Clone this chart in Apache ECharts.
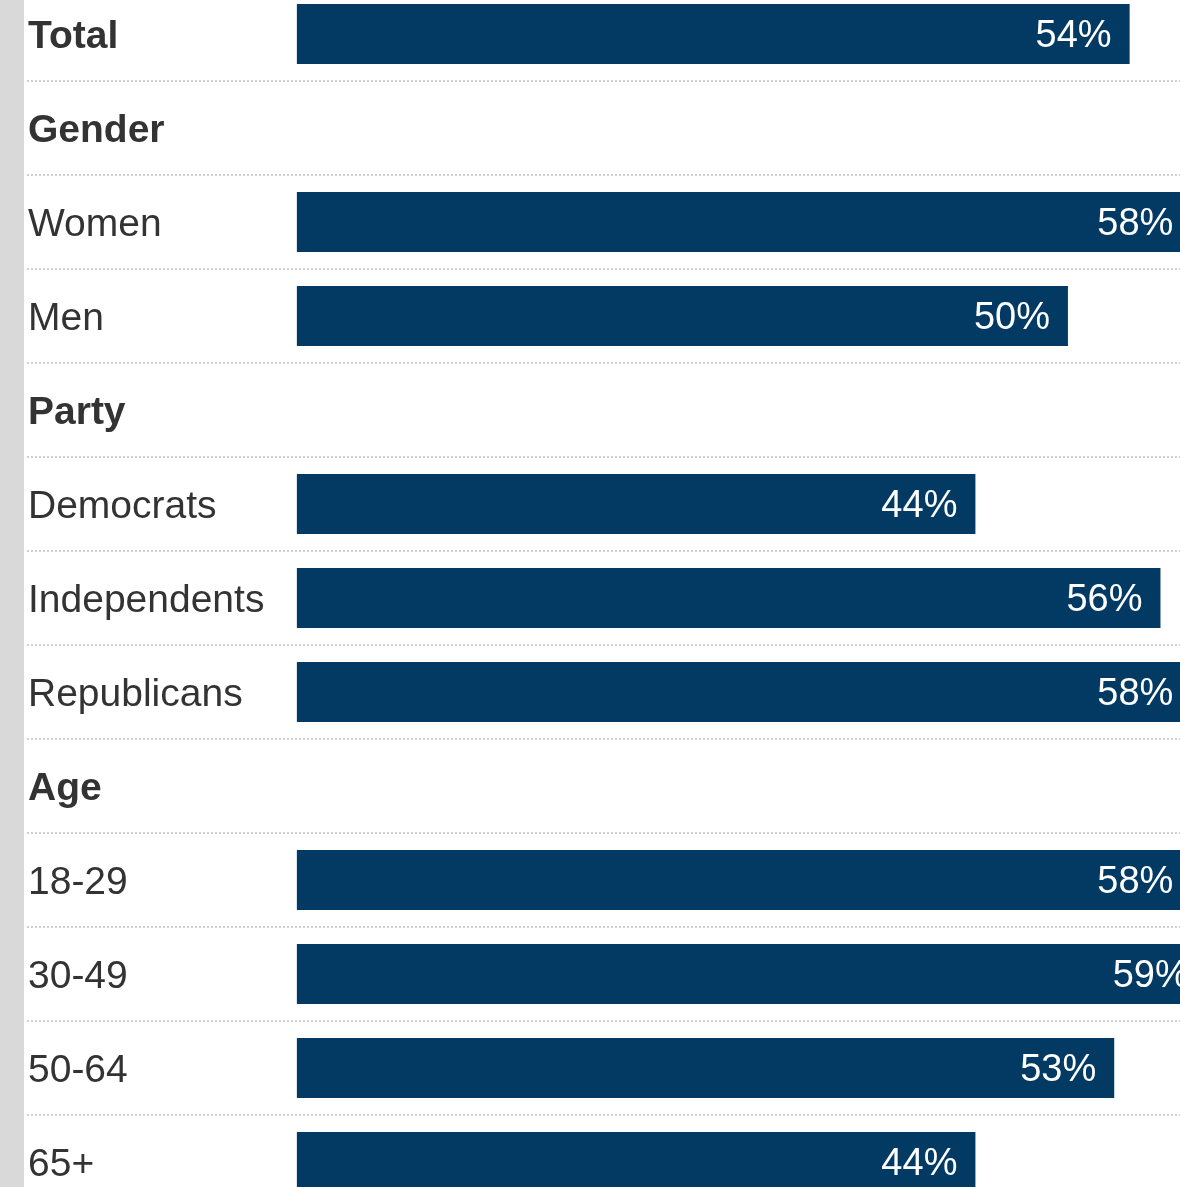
<!DOCTYPE html>
<html>
<head>
<meta charset="utf-8">
<script src="https://cdn.jsdelivr.net/npm/echarts@6/dist/echarts.min.js"></script>
<style>
html,body{margin:0;padding:0;background:#fff;overflow:hidden;}
#wrap{position:relative;width:1180px;height:1187px;overflow:hidden;background:linear-gradient(to right,#d9d9d9 0,#d9d9d9 24px,#fff 24px);}
#chart{position:absolute;left:0;top:-13.5px;width:1253px;height:1221.5px;}
</style>
</head>
<body>
<div id="wrap"><div id="chart"></div></div>
<script>
const categories = ['Total','Gender','Women','Men','Party','Democrats','Independents','Republicans','Age','18-29','30-49','50-64','65+'];
const headerRows = ['Total','Gender','Party','Age'];
const values = [54, null, 58, 50, null, 44, 56, 58, null, 58, 59, 53, 44];

const chart = echarts.init(document.getElementById('chart'), null, {renderer:'canvas'});
const yData = categories.map(c => ({value:c}));

chart.setOption({
  animation:false,
  grid:{left:27, right:0, top:0, bottom:0, containLabel:false, outerBoundsMode:'none'},
  xAxis:{type:'value', min:-17.5, max:62, show:false},
  yAxis:{
    type:'category', inverse:true, data:yData,
    axisLine:{show:false}, axisTick:{show:false},
    axisLabel:{align:'left', margin:-1, color:'#333333', fontFamily:'Liberation Sans, Arial, sans-serif', fontSize:39,
      formatter: v => (headerRows.indexOf(v) >= 0 ? '{h|' : '{n|') + v + '}',
      rich:{
        h:{fontWeight:'bold', fontSize:39, fontFamily:'Liberation Sans, Arial, sans-serif', color:'#333333', padding:[7,0,0,0]},
        n:{fontSize:39, fontFamily:'Liberation Sans, Arial, sans-serif', color:'#333333', padding:[7,0,0,0]}
      }},
    splitLine:{show:true, lineStyle:{color:'#cfcfcf', width:2, type:[2,2]}}
  },
  series:[{
    type:'bar', data:values, barWidth:60, clip:false,
    itemStyle:{color:'#023a64'},
    label:{show:true, position:'insideRight', distance:18, offset:[0,3], color:'#ffffff',
      fontFamily:'Liberation Sans, Arial, sans-serif', fontSize:38,
      formatter: p => p.value + '%'}
  }]
});
</script>
</body>
</html>
